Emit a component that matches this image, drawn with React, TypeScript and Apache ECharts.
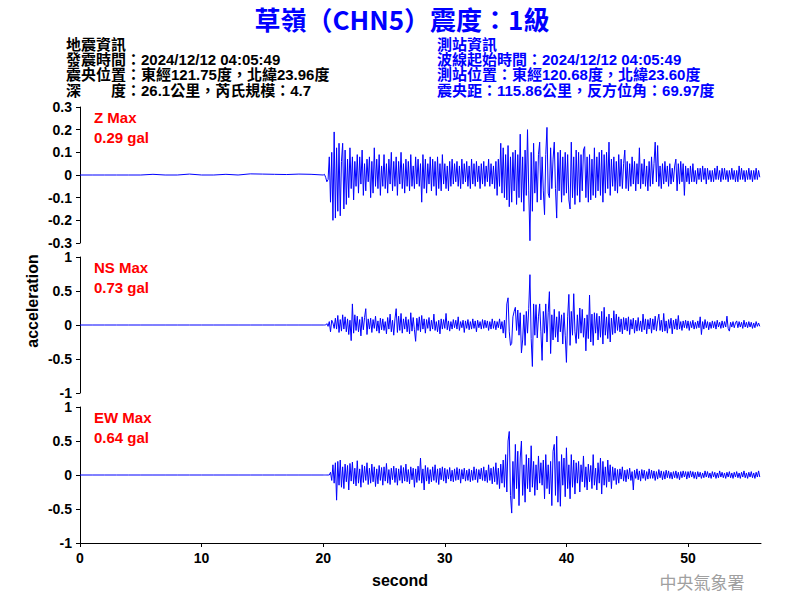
import React, { useEffect, useRef } from "react";
import * as echarts from "echarts";

// ---- data ----
const TITLE = "草嶺（CHN5）震度：1級";
const QUAKE_INFO = [
  "地震資訊",
  "發震時間：2024/12/12 04:05:49",
  "震央位置：東經121.75度，北緯23.96度",
  "深　　度：26.1公里，芮氏規模：4.7",
];
const STATION_INFO = [
  "測站資訊",
  "波線起始時間：2024/12/12 04:05:49",
  "測站位置：東經120.68度，北緯23.60度",
  "震央距：115.86公里，反方位角：69.97度",
];
const CHANNELS = ["Z", "NS", "EW"];
const MAX_GAL = ["0.29", "0.73", "0.64"];
const X_TICKS = [0, 10, 20, 30, 40, 50];
const Z_TICKS = [-0.3, -0.2, -0.1, 0, 0.1, 0.2, 0.3];
const H_TICKS = [-1, -0.5, 0, 0.5, 1];
const X_MAX = 56;

const PRE_STEP = 1; // seconds, 0..19
const zPre = [0, 0, 0, 0, 0, 0, 0.003, 0, 0, 0.004, 0, 0, 0.003, 0, 0.005, 0.004, 0.003, 0.002, 0.004, 0.003];
const nsPre = [0, 0, 0, 0, 0, 0, 0, 0, 0, 0, 0, 0, 0, 0, 0, 0, 0, 0, 0, 0];
const ewPre = [0, 0, 0, 0, 0, 0, 0, 0, 0, 0, 0, 0, 0, 0, 0, 0, 0, 0, 0, 0];

const WAVE_START = 20;
const WAVE_STEP = 0.1;
const zWave = [
  0, 0.003, -0.01, -0.03, -0.02, 0.08, -0.12, 0.10, -0.20, 0.19,
  -0.19, 0.12, -0.16, 0.14, -0.18, 0.06, 0.14, -0.15, 0.11, -0.13,
  0.07, -0.10, 0.12, -0.06, 0.08, -0.11, 0.06, -0.05, 0.09, -0.08,
  0.08, -0.04, 0.11, -0.09, 0.05, -0.07, 0.07, -0.03, 0.08, -0.10,
  0.06, -0.08, 0.12, -0.05, 0.07, -0.06, 0.09, -0.09, 0.04, -0.05,
  0.09, -0.06, 0.05, -0.08, 0.07, -0.04, 0.10, -0.07, 0.06, -0.05,
  0.08, -0.09, 0.06, -0.04, 0.10, -0.06, 0.05, -0.08, 0.07, -0.05,
  0.06, -0.07, 0.09, -0.05, 0.04, -0.06, 0.08, -0.04, 0.07, -0.05,
  0.05, -0.12, 0.09, -0.06, 0.07, -0.08, 0.05, -0.04, 0.08, -0.07,
  0.07, -0.05, 0.06, -0.09, 0.08, -0.06, 0.05, -0.07, 0.09, -0.04,
  0.05, -0.06, 0.04, -0.07, 0.06, -0.05, 0.07, -0.04, 0.05, -0.03,
  0.06, -0.05, 0.04, -0.06, 0.07, -0.04, 0.05, -0.03, 0.06, -0.05,
  0.04, -0.06, 0.07, -0.04, 0.05, -0.05, 0.06, -0.03, 0.04, -0.06,
  0.05, -0.04, 0.06, -0.05, 0.04, -0.03, 0.07, -0.05, 0.05, -0.04,
  0.04, -0.06, 0.06, -0.09, 0.07, -0.05, 0.14, -0.08, 0.12, -0.10,
  0.09, -0.11, 0.13, -0.14, 0.08, -0.12, 0.10, -0.07, 0.11, -0.13,
  0.09, -0.10, 0.18, -0.12, 0.08, -0.16, 0.11, -0.09, 0.20, -0.07,
  -0.29, 0.10, -0.16, 0.14, -0.08, 0.06, -0.12, 0.09, 0.145, -0.11,
  0.08, -0.07, -0.175, 0.09, 0.21, -0.08, -0.10, 0.12, -0.06, 0.07,
  0.145, -0.06, -0.19, 0.10, -0.07, 0.11, -0.12, 0.08, -0.09, 0.10,
  -0.08, 0.09, -0.11, -0.15, 0.145, -0.10, 0.08, -0.13, 0.11, -0.09,
  0.10, -0.12, 0.09, -0.07, 0.11, 0.125, -0.10, 0.08, -0.12, 0.09,
  -0.11, 0.07, -0.09, 0.12, -0.10, 0.08, -0.07, 0.10, -0.09, 0.11,
  -0.12, 0.09, -0.08, 0.10, -0.06, 0.145, -0.09, 0.07, -0.05, 0.08,
  -0.07, 0.06, -0.08, 0.09, -0.05, 0.07, -0.06, 0.05, 0.11, -0.06,
  0.06, -0.07, 0.05, -0.05, 0.08, -0.04, 0.06, -0.07, 0.05, -0.04,
  0.12, -0.06, 0.05, -0.04, 0.07, -0.05, 0.04, -0.07, 0.06, -0.05,
  0.08, -0.04, 0.05, 0.145, -0.03, 0.13, -0.05, 0.04, -0.06, 0.05,
  -0.04, 0.06, -0.03, 0.04, -0.05, 0.05, -0.04, 0.03, -0.03, 0.04,
  0.07, -0.07, 0.05, -0.04, 0.06, -0.03, 0.05, -0.09, 0.04, -0.03,
  0.03, -0.04, 0.04, -0.03, 0.05, -0.03, 0.02, -0.04, 0.03, -0.02,
  0.03, -0.03, 0.04, -0.02, 0.03, -0.04, 0.03, -0.02, 0.02, -0.03,
  0.02, -0.03, 0.03, -0.02, 0.04, -0.02, 0.02, -0.03, 0.03, -0.02,
  0.03, -0.02, 0.02, -0.03, 0.02, -0.02, 0.03, -0.02, 0.02, -0.03,
  0.02, -0.03, 0.04, -0.02, 0.03, -0.02, 0.02, -0.03, 0.02, -0.02,
  0.03, -0.02, 0.02, -0.03, 0.02, -0.02, 0.03, -0.02, 0.02, -0.01,
];
const nsWave = [
  0, 0, 0, 0.02, -0.02, 0.05, -0.10, 0.07, 0.03, -0.05,
  0.10, -0.06, 0.14, -0.11, 0.08, -0.09, 0.15, -0.06, 0.12, -0.10,
  0.09, -0.14, 0.07, -0.23, 0.31, -0.12, 0.15, -0.08, 0.13, -0.10,
  0.08, -0.16, 0.12, -0.07, 0.11, 0.24, -0.14, 0.09, -0.06, 0.10,
  -0.11, 0.08, -0.05, 0.13, -0.09, 0.06, -0.12, 0.10, -0.07, 0.09,
  -0.08, 0.05, -0.13, 0.11, -0.06, 0.16, -0.10, 0.07, -0.15, 0.09,
  0.24, -0.11, 0.13, -0.08, 0.17, -0.12, 0.09, -0.06, 0.12, -0.10,
  0.08, -0.13, 0.18, -0.09, 0.11, -0.07, -0.24, 0.10, -0.08, 0.12,
  -0.10, 0.14, -0.06, 0.09, -0.12, 0.08, -0.05, 0.11, -0.09, 0.07,
  -0.06, 0.16, -0.08, 0.05, -0.10, 0.07, -0.13, 0.09, -0.06, 0.08,
  -0.05, 0.17, -0.07, 0.06, -0.09, 0.05, -0.06, 0.08, -0.04, 0.07,
  -0.06, 0.12, -0.08, 0.05, -0.04, 0.07, -0.11, 0.06, -0.05, 0.08,
  -0.07, 0.05, -0.06, 0.09, -0.05, 0.06, -0.10, 0.07, -0.04, 0.05,
  -0.06, 0.08, -0.05, 0.07, -0.04, 0.06, -0.08, 0.05, -0.06, 0.09,
  -0.05, 0.06, -0.07, 0.05, -0.04, 0.09, -0.06, 0.05, -0.12, 0.07,
  -0.19, 0.31, 0.40, -0.10, -0.30, -0.27, 0.12, 0.20, 0.26, -0.08,
  0.22, -0.15, 0.18, -0.41, -0.22, 0.15, -0.30, 0.20, -0.12, 0.24,
  0.74, -0.20, -0.61, 0.31, -0.15, 0.30, -0.19, 0.12, 0.31, -0.10,
  -0.52, 0.20, -0.12, 0.31, -0.25, 0.18, 0.49, -0.42, 0.15, -0.22,
  0.23, -0.18, 0.12, -0.25, 0.20, -0.10, 0.15, -0.28, 0.18, -0.15,
  -0.55, 0.12, 0.45, -0.30, 0.20, -0.15, 0.46, -0.10, -0.27, 0.15,
  -0.20, 0.25, -0.12, 0.23, -0.18, 0.10, -0.38, 0.15, -0.20, 0.44,
  -0.25, 0.16, -0.30, 0.18, -0.12, 0.17, -0.22, 0.13, -0.18, 0.20,
  -0.28, 0.26, -0.15, 0.12, -0.20, 0.16, -0.25, 0.10, -0.14, 0.21,
  -0.12, 0.16, -0.08, 0.12, -0.10, 0.09, -0.13, 0.11, -0.07, 0.10,
  -0.09, 0.12, -0.14, 0.08, -0.06, 0.10, -0.12, 0.07, -0.09, 0.11,
  -0.08, 0.06, -0.10, 0.16, -0.07, 0.09, -0.13, 0.08, -0.06, 0.10,
  -0.12, 0.09, -0.07, 0.13, -0.09, 0.06, 0.16, -0.08, 0.07, -0.10,
  0.17, -0.09, 0.06, -0.12, 0.08, -0.05, 0.10, -0.13, 0.07, -0.06,
  0.09, -0.07, 0.14, -0.06, 0.05, -0.08, 0.06, -0.04, 0.07, -0.05,
  0.06, -0.08, 0.05, -0.04, 0.07, -0.06, 0.04, -0.05, 0.06, -0.04,
  0.12, -0.14, 0.05, -0.06, 0.08, -0.04, 0.05, -0.07, 0.04, -0.05,
  0.06, -0.04, 0.05, -0.06, 0.07, -0.03, 0.04, -0.05, 0.06, -0.04,
  0.05, -0.03, 0.13, -0.05, -0.09, 0.04, -0.03, 0.05, -0.04, 0.03,
  0.06, -0.04, 0.05, -0.03, 0.04, -0.05, 0.07, -0.03, 0.04, -0.04,
  0.05, -0.03, 0.04, -0.05, 0.03, -0.04, 0.05, -0.02, 0.03, -0.02,
];
const ewWave = [
  0, 0, 0, 0, 0, 0, 0.04, -0.08, 0.15, -0.12,
  0.18, -0.37, 0.20, -0.15, 0.22, -0.18, 0.12, -0.20, 0.16, -0.10,
  0.14, -0.22, 0.17, -0.09, 0.19, -0.13, 0.10, -0.16, 0.21, -0.12,
  0.09, -0.18, 0.15, -0.11, 0.13, -0.08, 0.18, -0.14, 0.10, -0.12,
  0.16, -0.10, 0.12, -0.17, 0.09, -0.13, 0.14, -0.08, 0.11, -0.15,
  0.12, -0.09, 0.17, -0.12, 0.08, -0.14, 0.10, -0.07, 0.13, -0.11,
  0.10, -0.15, 0.09, -0.08, 0.14, -0.12, 0.11, -0.09, 0.16, -0.10,
  0.08, -0.13, 0.12, -0.07, 0.10, -0.18, 0.09, -0.11, 0.13, -0.08,
  0.25, -0.12, 0.09, -0.22, 0.14, -0.09, 0.11, -0.13, 0.08, -0.10,
  0.12, -0.08, 0.15, -0.11, 0.09, -0.14, 0.10, -0.07, 0.12, -0.09,
  0.10, -0.12, 0.08, -0.06, 0.11, -0.09, 0.07, -0.10, 0.09, -0.08,
  0.11, -0.07, 0.09, -0.12, 0.08, -0.06, 0.10, -0.09, 0.07, -0.08,
  0.09, -0.10, 0.07, -0.08, 0.12, -0.07, 0.09, -0.11, 0.08, -0.06,
  0.10, -0.08, 0.12, -0.09, 0.07, -0.11, 0.15, -0.08, 0.10, -0.13,
  0.12, -0.10, 0.18, -0.14, 0.10, -0.20, 0.16, -0.12, 0.22, -0.18,
  0.30, -0.25, 0.50, 0.64, -0.30, -0.56, 0.20, -0.35, 0.45, -0.20,
  0.35, -0.45, 0.25, 0.50, -0.30, 0.15, -0.40, 0.30, -0.20, 0.25,
  -0.25, 0.43, -0.18, 0.20, -0.30, 0.15, -0.22, 0.28, -0.12, 0.18,
  -0.15, 0.22, -0.35, 0.30, -0.20, 0.15, -0.28, 0.20, -0.45, 0.35,
  0.45, -0.30, 0.57, -0.40, 0.20, -0.46, 0.30, -0.15, 0.25, -0.32,
  0.40, -0.20, 0.15, -0.35, 0.30, -0.18, 0.22, -0.28, 0.18, -0.12,
  0.20, -0.25, 0.15, -0.10, 0.28, -0.18, 0.12, -0.22, 0.16, -0.10,
  0.14, -0.20, 0.30, -0.15, 0.10, -0.22, 0.18, -0.12, 0.25, -0.28,
  0.20, -0.15, 0.12, -0.18, 0.22, -0.10, 0.15, -0.20, 0.12, -0.08,
  0.10, -0.14, 0.08, -0.12, 0.09, -0.06, 0.12, -0.09, 0.07, -0.10,
  0.08, -0.06, 0.10, -0.08, 0.05, -0.22, 0.07, -0.05, 0.09, -0.07,
  0.06, -0.09, 0.08, -0.05, 0.07, -0.08, 0.05, -0.06, 0.09, -0.05,
  0.07, -0.05, 0.06, -0.08, 0.05, -0.06, 0.08, -0.04, 0.06, -0.07,
  0.05, -0.06, 0.07, -0.04, 0.06, -0.05, 0.04, -0.06, 0.05, -0.04,
  0.06, -0.05, 0.04, -0.07, 0.05, -0.04, 0.06, -0.03, 0.05, -0.06,
  0.05, -0.04, 0.06, -0.03, 0.05, -0.05, 0.04, -0.06, 0.05, -0.03,
  0.04, -0.05, 0.03, -0.04, 0.06, -0.03, 0.05, -0.04, 0.03, -0.05,
  0.05, -0.03, 0.04, -0.05, 0.03, -0.04, 0.06, -0.03, 0.04, -0.04,
  0.03, -0.05, 0.04, -0.03, 0.05, -0.04, 0.03, -0.05, 0.04, -0.03,
  0.05, -0.04, 0.03, -0.05, 0.04, -0.03, 0.06, -0.04, 0.03, -0.05,
  0.04, -0.03, 0.05, -0.04, 0.03, -0.05, 0.04, -0.03, 0.06, -0.03,
];

// ---- layout ----
const GRID_LEFT = 80;
const GRID_WIDTH = 681;
const GRID_TOPS = [107, 257, 407];
const GRID_HEIGHT = 136;
const INFO_LINE_Y = [44, 59.3, 74.6, 90];
const LINE_COLOR = "#0000ff";
const SANS = "'Liberation Sans', Arial, sans-serif";
const CJK = "'Noto Sans CJK TC', 'Noto Sans CJK SC', sans-serif";
const MIXED = "'Liberation Sans', 'Noto Sans CJK TC', 'Noto Sans CJK SC', sans-serif";

function build(pre: number[], wave: number[]) {
  return [
    ...pre.map((v, i) => [i * PRE_STEP, v]),
    ...wave.map((v, i) => [+(WAVE_START + i * WAVE_STEP).toFixed(2), v]),
  ];
}

function infoTexts(lines: string[], x: number, color: string) {
  return lines.map((t, i) => ({
    type: "text",
    x,
    y: INFO_LINE_Y[i],
    style: {
      text: t,
      fill: color,
      font: `bold 15px ${MIXED}`,
      textAlign: "left",
      textVerticalAlign: "middle",
    },
  }));
}

export default function App() {
  const ref = useRef<HTMLDivElement>(null);
  useEffect(() => {
    const chart = echarts.init(ref.current!, null, { renderer: "svg" });
    const datasets = [build(zPre, zWave), build(nsPre, nsWave), build(ewPre, ewWave)];
    const yTicks = [Z_TICKS, H_TICKS, H_TICKS];

    const option: any = {
      animation: false,
      backgroundColor: "#ffffff",
      grid: GRID_TOPS.map((top) => ({
        left: GRID_LEFT,
        top,
        width: GRID_WIDTH,
        height: GRID_HEIGHT,
        containLabel: false,
      })),
      xAxis: GRID_TOPS.map((_, i) => ({
        type: "value",
        gridIndex: i,
        min: 0,
        max: X_MAX,
        show: i === 2,
        axisLine: { show: true, onZero: false, lineStyle: { color: "#000", width: 1 } },
        axisTick: { show: true, length: 4, customValues: X_TICKS, lineStyle: { color: "#000" } },
        axisLabel: {
          customValues: X_TICKS,
          margin: 8,
          color: "#000",
          fontFamily: SANS,
          fontWeight: "bold",
          fontSize: 14,
        },
        splitLine: { show: false },
      })),
      yAxis: GRID_TOPS.map((_, i) => ({
        type: "value",
        gridIndex: i,
        min: yTicks[i][0],
        max: yTicks[i][yTicks[i].length - 1],
        axisLine: { show: true, onZero: false, lineStyle: { color: "#000", width: 1 } },
        axisTick: { show: true, length: 4, customValues: yTicks[i], lineStyle: { color: "#000" } },
        axisLabel: {
          customValues: yTicks[i],
          margin: 8,
          color: "#000",
          fontFamily: SANS,
          fontWeight: "bold",
          fontSize: 14,
          formatter: (v: number) => String(+v.toFixed(2)),
        },
        splitLine: { show: false },
      })),
      series: datasets.map((d, i) => ({
        type: "line",
        xAxisIndex: i,
        yAxisIndex: i,
        data: d,
        showSymbol: false,
        symbol: "none",
        lineStyle: { color: LINE_COLOR, width: 1 },
        itemStyle: { color: LINE_COLOR },
        clip: true,
        silent: true,
      })),
      graphic: [
        {
          type: "text",
          x: 402,
          y: 18,
          style: {
            text: TITLE,
            fill: LINE_COLOR,
            font: `bold 26px ${CJK}`,
            textAlign: "center",
            textVerticalAlign: "middle",
          },
        },
        ...infoTexts(QUAKE_INFO, 66, "#000"),
        ...infoTexts(STATION_INFO, 437, LINE_COLOR),
        ...CHANNELS.map((c, i) => ({
          type: "text",
          x: 94,
          y: GRID_TOPS[i] + 0.5,
          style: {
            text: `${c} Max\n${MAX_GAL[i]} gal`,
            fill: "#ff0000",
            font: `bold 15px ${SANS}`,
            lineHeight: 20,
            textAlign: "left",
            textVerticalAlign: "top",
          },
        })),
        {
          type: "text",
          x: 32,
          y: 301,
          rotation: Math.PI / 2,
          style: {
            text: "acceleration",
            fill: "#000",
            font: `bold 16px ${SANS}`,
            textAlign: "center",
            textVerticalAlign: "middle",
          },
        },
        {
          type: "text",
          x: 400,
          y: 580,
          style: {
            text: "second",
            fill: "#000",
            font: `bold 16px ${SANS}`,
            textAlign: "center",
            textVerticalAlign: "middle",
          },
        },
        {
          type: "text",
          x: 702,
          y: 581,
          style: {
            text: "中央氣象署",
            fill: "#a0a0a0",
            font: `17px ${CJK}`,
            textAlign: "center",
            textVerticalAlign: "middle",
          },
        },
      ],
    };
    chart.setOption(option);
    return () => chart.dispose();
  }, []);
  return (
    <div
      ref={ref}
      style={{ position: "fixed", left: 0, top: 0, width: 800, height: 600, background: "#fff" }}
    />
  );
}
